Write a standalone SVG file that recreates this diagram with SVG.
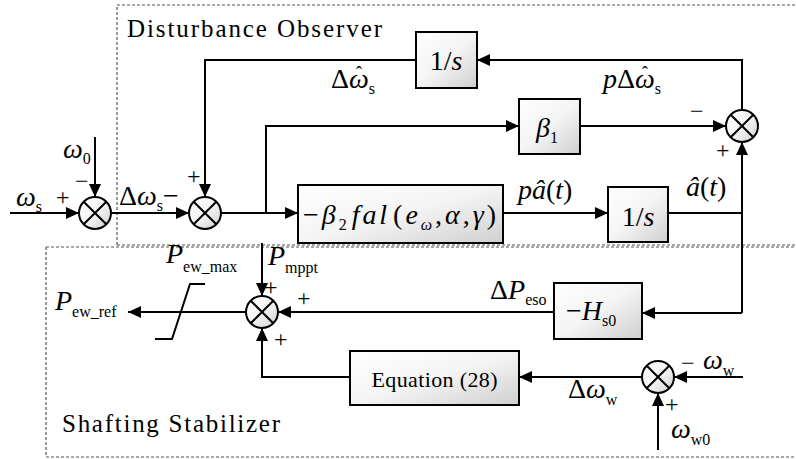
<svg xmlns="http://www.w3.org/2000/svg" width="796" height="459" viewBox="0 0 796 459" font-family="Liberation Serif, Times New Roman, serif">
<defs>
<linearGradient id="g" x1="0" y1="0" x2="1" y2="1">
<stop offset="0" stop-color="#ffffff"/>
<stop offset="0.5" stop-color="#f4f4f4"/>
<stop offset="1" stop-color="#cfcfcf"/>
</linearGradient>
<marker id="ah" markerUnits="userSpaceOnUse" markerWidth="14" markerHeight="12" refX="13" refY="6" orient="auto">
<path d="M0,0 L13,6 L0,12 Z" fill="#000"/>
</marker>
</defs>
<style>
.box{fill:url(#g);stroke:#000;stroke-width:2}
.sum{fill:url(#g);stroke:#000;stroke-width:2}
.x{stroke:#000;stroke-width:2}
.w{fill:none;stroke:#000;stroke-width:2}
.a{fill:none;stroke:#000;stroke-width:2;marker-end:url(#ah)}
.dash{fill:none;stroke:#555;stroke-width:1.2;stroke-dasharray:3,2}
text{font-family:Liberation Serif, Times New Roman, serif;fill:#000}
.m{font-size:28px;font-style:italic}
.u{font-size:28px}
.p{font-size:24px}
.s{font-size:16px;font-style:normal}
.t{font-size:25px}
.h{font-size:18px}
</style>
<g id="frames">
<path class="dash" d="M117,245 V5 H800 M117,245 H800"/>
<path class="dash" d="M46,247 H800 M46,247 V457 H800"/>
<text class="t" x="127" y="37" textLength="255">Disturbance Observer</text>
<text class="t" x="62" y="432" textLength="218">Shafting Stabilizer</text>
</g>
<g id="connectors">
<path class="a" d="M10,213 H79"/>
<path class="a" d="M95,137 V197"/>
<path class="a" d="M111,213 H189"/>
<path class="a" d="M416,60 H205 V197"/>
<path class="a" d="M742,110 V60 H477"/>
<path class="w" d="M221,213 H266"/>
<path class="a" d="M266,213 V126 H519"/>
<path class="a" d="M266,213 H298"/>
<path class="a" d="M580,126 H726"/>
<path class="a" d="M503,213 H608"/>
<path class="w" d="M668,213 H742"/>
<path class="a" d="M742,313 V142"/>
<path class="a" d="M742,313 H642"/>
<path class="a" d="M554,312 H278"/>
<path class="a" d="M262,243 V296"/>
<path class="a" d="M246,312 H128"/>
<path class="w" d="M155,339 H172 L190,284 H205"/>
<path class="a" d="M350,377 H262 V328"/>
<path class="a" d="M642,377 H519"/>
<path class="a" d="M743,377 H674"/>
<path class="a" d="M658,450 V393"/>
</g>
<g id="sum1"><circle class="sum" cx="95" cy="213" r="16"/><path class="x" d="M83.7,201.7 L106.3,224.3 M106.3,201.7 L83.7,224.3"/></g>
<g id="sum2"><circle class="sum" cx="205" cy="213" r="16"/><path class="x" d="M193.7,201.7 L216.3,224.3 M216.3,201.7 L193.7,224.3"/></g>
<g id="sum3"><circle class="sum" cx="742" cy="126" r="16"/><path class="x" d="M730.7,114.7 L753.3,137.3 M753.3,114.7 L730.7,137.3"/></g>
<g id="sum4"><circle class="sum" cx="262" cy="312" r="16"/><path class="x" d="M250.7,300.7 L273.3,323.3 M273.3,300.7 L250.7,323.3"/></g>
<g id="sum5"><circle class="sum" cx="658" cy="377" r="16"/><path class="x" d="M646.7,365.7 L669.3,388.3 M669.3,365.7 L646.7,388.3"/></g>
<g id="int1"><rect class="box" x="416" y="32" width="61" height="56"/>
<text x="446" y="70" text-anchor="middle"><tspan class="u">1/</tspan><tspan class="m">s</tspan></text></g>
<g id="beta1"><rect class="box" x="519" y="99" width="61" height="55"/>
<text x="536" y="137"><tspan class="m">β</tspan><tspan class="s" dy="6">1</tspan></text></g>
<g id="fal"><rect class="box" x="298" y="185" width="205" height="58"/>
<text x="303" y="224" textLength="193" lengthAdjust="spacing"><tspan class="u">−</tspan><tspan class="m">β</tspan><tspan class="s" dy="6">2</tspan><tspan class="m" dy="-6" dx="2">fal</tspan><tspan class="u" dx="3">(</tspan><tspan class="m">e</tspan><tspan class="s" dy="6" style="font-style:italic">ω</tspan><tspan class="u" dy="-6">,</tspan><tspan class="m">α</tspan><tspan class="u">,</tspan><tspan class="m">γ</tspan><tspan class="u">)</tspan></text></g>
<g id="int2"><rect class="box" x="608" y="187" width="60" height="55"/>
<text x="638" y="226" text-anchor="middle"><tspan class="u">1/</tspan><tspan class="m">s</tspan></text></g>
<g id="hs0"><rect class="box" x="554" y="283" width="88" height="56"/>
<text x="566" y="320"><tspan class="u">−</tspan><tspan class="m">H</tspan><tspan class="s" dy="6">s0</tspan></text></g>
<g id="eq28"><rect class="box" x="350" y="351" width="169" height="54"/>
<text x="434.5" y="387" text-anchor="middle" style="font-size:22px" textLength="126">Equation (28)</text></g>
<g id="labels">
<text x="16" y="206"><tspan class="m">ω</tspan><tspan class="s" dy="6">s</tspan></text>
<text class="p" x="56" y="205">+</text>
<text x="63" y="158"><tspan class="m">ω</tspan><tspan class="s" dy="6">0</tspan></text>
<text class="p" x="75" y="189">−</text>
<text x="119" y="205"><tspan class="u">Δ</tspan><tspan class="m">ω</tspan><tspan class="s" dy="6">s</tspan><tspan class="u" dy="-6">−</tspan></text>
<text class="p" x="187" y="184">+</text>
<text x="331" y="88"><tspan class="u">Δ</tspan><tspan class="m">ω</tspan><tspan class="s" dy="6">s</tspan></text>
<text class="h" x="356" y="79">ˆ</text>
<text x="603" y="88"><tspan class="m">p</tspan><tspan class="u">Δ</tspan><tspan class="m">ω</tspan><tspan class="s" dy="6">s</tspan></text>
<text class="h" x="642" y="79">ˆ</text>
<text class="p" x="690" y="119">−</text>
<text class="p" x="716" y="158">+</text>
<text x="686" y="196"><tspan class="m">â</tspan><tspan class="u">(</tspan><tspan class="m">t</tspan><tspan class="u">)</tspan></text>
<text x="518" y="199"><tspan class="m">pâ</tspan><tspan class="u">(</tspan><tspan class="m">t</tspan><tspan class="u">)</tspan></text>
<text x="490" y="299"><tspan class="u">Δ</tspan><tspan class="m">P</tspan><tspan class="s" dy="6">eso</tspan></text>
<text class="p" x="297" y="306">+</text>
<text x="268" y="265"><tspan class="m">P</tspan><tspan class="s" dy="8">mppt</tspan></text>
<text class="p" x="264" y="295">+</text>
<text class="p" x="274" y="347">+</text>
<text x="166" y="263"><tspan class="m">P</tspan><tspan class="s" dy="9">ew_max</tspan></text>
<text x="55" y="310"><tspan class="m">P</tspan><tspan class="s" dy="7">ew_ref</tspan></text>
<text x="568" y="398"><tspan class="u">Δ</tspan><tspan class="m">ω</tspan><tspan class="s" dy="7">w</tspan></text>
<text class="p" x="681" y="371">−</text>
<text x="703" y="369"><tspan class="m">ω</tspan><tspan class="s" dy="7">w</tspan></text>
<text class="p" x="665" y="412">+</text>
<text x="671" y="438"><tspan class="m">ω</tspan><tspan class="s" dy="7">w0</tspan></text>
</g>
</svg>
